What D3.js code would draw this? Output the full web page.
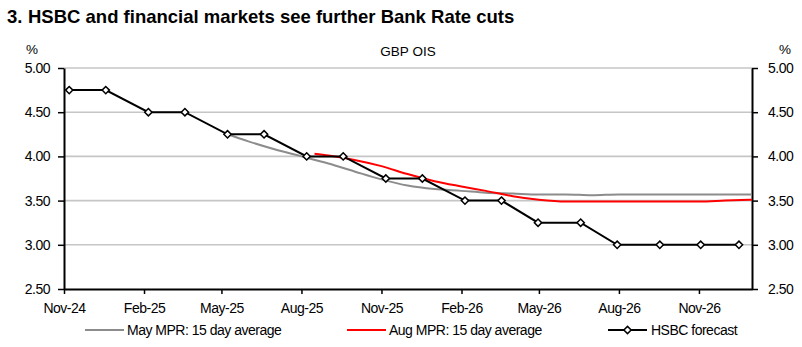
<!DOCTYPE html>
<html>
<head>
<meta charset="utf-8">
<script src="https://cdn.jsdelivr.net/npm/d3@7"></script>
<style>
  html, body { margin: 0; padding: 0; background: #fff; }
  svg { display: block; font-family: "Liberation Sans", Arial, sans-serif; }
</style>
</head>
<body>
<svg id="chart" width="802" height="347"></svg>
<script>
// ---- Data ----
const titleNum = "3.";
const titleText = "HSBC and financial markets see further Bank Rate cuts";
const chartSubtitle = "GBP OIS";
const unitLabel = "%";

const xTickDates = ["2024-11-01", "2025-02-01", "2025-05-01", "2025-08-01", "2025-11-01",
                    "2026-02-01", "2026-05-01", "2026-08-01", "2026-11-01"];
const xDomain = ["2024-11-01", "2027-01-01"];
const yTicks = [2.5, 3.0, 3.5, 4.0, 4.5, 5.0];

const forecastDates = ["2024-11-07", "2024-12-19", "2025-02-06", "2025-03-20", "2025-05-08", "2025-06-19",
                       "2025-08-07", "2025-09-18", "2025-11-06", "2025-12-18", "2026-02-05", "2026-03-19",
                       "2026-04-30", "2026-06-18", "2026-07-30", "2026-09-17", "2026-11-03", "2026-12-17"];
const forecastValues = [4.75, 4.75, 4.50, 4.50, 4.25, 4.25, 4.00, 4.00, 3.75, 3.75, 3.50, 3.50,
                        3.25, 3.25, 3.00, 3.00, 3.00, 3.00];

const mayDates = ["2025-05-08", "2025-06-01", "2025-07-01", "2025-08-01", "2025-09-01", "2025-10-01",
                  "2025-11-01", "2025-12-01", "2026-01-01", "2026-02-01", "2026-03-01", "2026-04-01",
                  "2026-05-01", "2026-06-01", "2026-07-01", "2026-08-01", "2026-09-01", "2026-10-01",
                  "2026-11-01", "2026-12-01", "2027-01-01"];
const mayValues = [4.25, 4.17, 4.08, 4.00, 3.92, 3.83, 3.74, 3.67, 3.63, 3.61, 3.59, 3.58,
                   3.57, 3.57, 3.56, 3.57, 3.57, 3.57, 3.57, 3.57, 3.57];

const augDates = ["2025-08-16", "2025-09-01", "2025-10-01", "2025-11-01", "2025-12-01", "2026-01-01",
                  "2026-02-01", "2026-03-01", "2026-04-01", "2026-05-01", "2026-06-01", "2026-07-01",
                  "2026-08-01", "2026-09-01", "2026-10-01", "2026-11-01", "2026-12-01", "2027-01-01"];
const augValues = [4.03, 4.01, 3.96, 3.89, 3.80, 3.72, 3.66, 3.61, 3.55, 3.51, 3.49, 3.49,
                   3.49, 3.49, 3.49, 3.49, 3.50, 3.51];

const seriesNames = ["May MPR: 15 day average", "Aug MPR: 15 day average", "HSBC forecast"];
const seriesColors = ["#8c8c8c", "#ff0000", "#000000"];

// ---- Layout ----
(function () {
const svg = d3.select("#chart");
const parse = d3.timeParse("%Y-%m-%d");
const fmt = d3.timeFormat("%b-%y");
const pLeft = 64, pRight = 752, pTop = 68, pBottom = 289;

const x = d3.scaleTime().domain(xDomain.map(parse)).range([pLeft, pRight]);
const y = d3.scaleLinear().domain([2.5, 5.0]).range([pBottom, pTop]);

// Title
const title = svg.append("text").attr("y", 23).attr("font-size", 18.5).attr("font-weight", "bold").attr("fill", "#000");
title.append("tspan").attr("x", 7).text(titleNum);
title.append("tspan").attr("x", 28).text(titleText);

// Gridlines
svg.append("g").selectAll("line").data(yTicks.filter(v => v > 2.5)).join("line")
  .attr("x1", pLeft).attr("x2", pRight)
  .attr("y1", d => y(d)).attr("y2", d => y(d))
  .attr("stroke", "#c6c6c6").attr("stroke-width", 1.6);

// Subtitle and unit labels
svg.append("text").attr("x", (pLeft + pRight) / 2).attr("y", 56).attr("text-anchor", "middle")
  .attr("font-size", 13.5).attr("fill", "#000").text(chartSubtitle);
svg.append("text").attr("x", 32).attr("y", 54).attr("text-anchor", "middle")
  .attr("font-size", 13.5).attr("fill", "#000").text(unitLabel);
svg.append("text").attr("x", 785).attr("y", 54).attr("text-anchor", "middle")
  .attr("font-size", 13.5).attr("fill", "#000").text(unitLabel);

// Axes
const yFmt = d3.format(".2f");
const axisStyle = g => {
  g.select(".domain").attr("stroke", "#000").attr("stroke-width", 2);
  g.selectAll(".tick line").attr("stroke", "#000").attr("stroke-width", 1.5);
  g.selectAll(".tick text").attr("fill", "#000").attr("font-size", 14)
    .attr("letter-spacing", "-0.5px").attr("font-family", "'Liberation Sans', Arial, sans-serif");
};

svg.append("g").attr("transform", `translate(${pLeft},0)`)
  .call(d3.axisLeft(y).tickValues(yTicks).tickFormat(yFmt).tickSize(6).tickSizeOuter(0).tickPadding(8))
  .call(axisStyle);
svg.append("g").attr("transform", `translate(${pRight},0)`)
  .call(d3.axisRight(y).tickValues(yTicks).tickFormat(yFmt).tickSize(6).tickSizeOuter(0).tickPadding(10))
  .call(axisStyle);
svg.append("g").attr("transform", `translate(0,${pBottom})`)
  .call(d3.axisBottom(x).tickValues(xTickDates.map(parse)).tickFormat(fmt).tickSize(5).tickSizeOuter(0).tickPadding(9))
  .call(axisStyle);

// Lines
const line = d3.line().x(d => x(d.date)).y(d => y(d.value));
const smooth = d3.line().x(d => x(d.date)).y(d => y(d.value)).curve(d3.curveMonotoneX);
const zip = (ds, vs) => ds.map((d, i) => ({ date: parse(d), value: vs[i] }));

const mayData = zip(mayDates, mayValues);
const augData = zip(augDates, augValues);
const fcData = zip(forecastDates, forecastValues);

svg.append("path").datum(mayData).attr("d", smooth).attr("fill", "none")
  .attr("stroke", seriesColors[0]).attr("stroke-width", 2);
svg.append("path").datum(augData).attr("d", smooth).attr("fill", "none")
  .attr("stroke", seriesColors[1]).attr("stroke-width", 2);
svg.append("path").datum(fcData).attr("d", line).attr("fill", "none")
  .attr("stroke", seriesColors[2]).attr("stroke-width", 2);

const diamond = d3.symbol().type(d3.symbolDiamond2).size(34);
svg.append("g").selectAll("path").data(fcData).join("path")
  .attr("d", diamond)
  .attr("transform", d => `translate(${x(d.date)},${y(d.value)})`)
  .attr("fill", "#fff").attr("stroke", "#000").attr("stroke-width", 1.5);

// Legend
const legendY = 330;
const legendItems = [
  { x1: 85, x2: 124, tx: 127 },
  { x1: 347, x2: 386, tx: 389 },
  { x1: 608, x2: 647, tx: 651 }
];
legendItems.forEach((it, i) => {
  svg.append("line").attr("x1", it.x1).attr("x2", it.x2).attr("y1", legendY).attr("y2", legendY)
    .attr("stroke", seriesColors[i]).attr("stroke-width", 2);
  if (i === 2) {
    svg.append("path").attr("d", diamond)
      .attr("transform", `translate(${(it.x1 + it.x2) / 2},${legendY})`)
      .attr("fill", "#fff").attr("stroke", "#000").attr("stroke-width", 1.5);
  }
  svg.append("text").attr("x", it.tx).attr("y", legendY + 5).attr("font-size", 14)
    .attr("letter-spacing", "-0.5px").attr("fill", "#000").text(seriesNames[i]);
});
})();
</script>
</body>
</html>
